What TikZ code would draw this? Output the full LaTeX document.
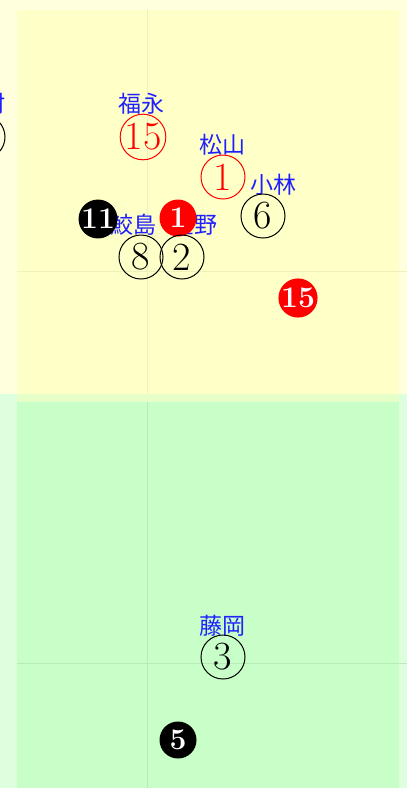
\documentclass[tikz,border=0pt]{standalone}
\usepackage{fontspec}
\newfontfamily\cjk{Noto Sans CJK JP}
\usetikzlibrary{positioning}
\definecolor{paleyel}{HTML}{FFFFDD}
\definecolor{zoneyel}{HTML}{FFFFC8}
\definecolor{palegrn}{HTML}{DDFFDD}
\definecolor{zonegrn}{HTML}{C8FFC8}
\definecolor{stripc}{HTML}{E6FFC8}
\definecolor{namec}{HTML}{2020FF}
\begin{document}
\begin{tikzpicture}[x=1pt, y=-1pt,
    pname/.style={text=namec, font=\cjk\fontsize{23}{23}\selectfont, inner sep=0pt},
    opn/.style={draw, circle, line width=1pt, minimum size=44pt, inner sep=0pt, font=\fontsize{40}{40}\selectfont},
    fil/.style={circle, fill=black, text=white, minimum size=37pt, inner sep=0pt, font=\fontsize{30}{30}\selectfont\bfseries}
]
\useasboundingbox (0,0) rectangle (407,788);
\clip (0,0) rectangle (407,788);
% field zones
\fill[paleyel] (0,0) rectangle (407,394);
\fill[palegrn] (0,394) rectangle (407,788);
\fill[zoneyel] (17,10) rectangle (399,394);
\fill[stripc] (17,394) rectangle (399,402);
\fill[zonegrn] (17,402) rectangle (399,788);
\draw[zoneyel!94!black] (147,10) -- (147,394);
\draw[zoneyel!94!black] (17,271) -- (407,271);
\draw[zonegrn!92!black] (147,402) -- (147,788);
\draw[zonegrn!92!black] (17,663) -- (407,663);

% players
\node[pname] (kimura) at (-17,104) {木村};
\node[opn] (p7) at (-17,137) {7};
\node[pname] (fukunaga) at (141,104) {福永};
\node[opn, draw=red, text=red] (p15) at (143,137) {15};
\node[pname] (matsuyama) at (222,145) {松山};
\node[opn, draw=red, text=red] (p1) at (223,177) {1};
\node[pname] (kobayashi) at (273,185) {小林};
\node[opn] (p6) at (263,216) {6};
\node[pname] (samejima) at (133,225) {鮫島};
\node[pname] (hoshino) at (194,225) {星野};
\node[fil] (b11) at (98,219) {11};
\node[fil, fill=red] (r1) at (178,218) {1};
\node[opn] (p8) at (141,257) {8};
\node[opn] (p2) at (182,257) {2};
\node[fil, fill=red] (r15) at (298,298) {15};
\node[pname] (fujioka) at (222,626) {藤岡};
\node[opn] (p3) at (223,657) {3};
\node[fil] (b5) at (178,740) {5};
\end{tikzpicture}
\end{document}
